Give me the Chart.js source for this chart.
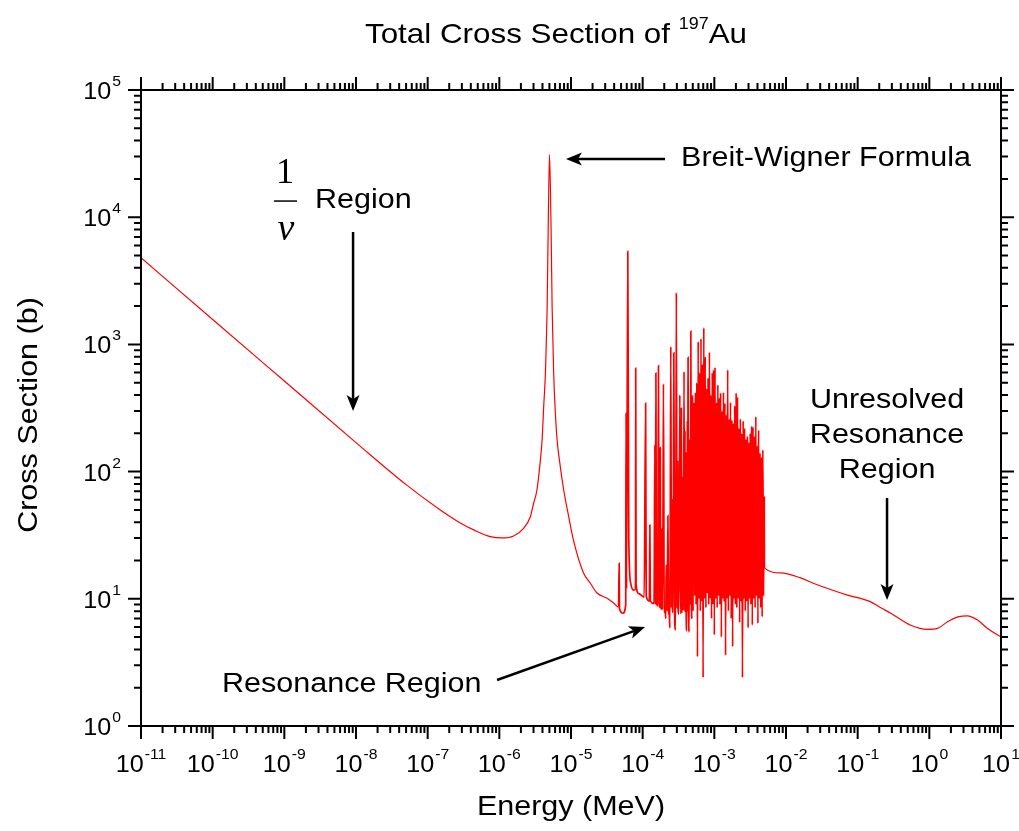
<!DOCTYPE html>
<html>
<head>
<meta charset="utf-8">
<title>Total Cross Section of 197Au</title>
<script src="https://cdn.jsdelivr.net/npm/chart.js@4.4.1/dist/chart.umd.min.js"></script>
<style>
  html, body { margin: 0; padding: 0; background: #fff; }
  #wrap { width: 1019px; height: 831px; position: relative; }
</style>
</head>
<body>
<div id="wrap"><canvas id="xsChart"></canvas></div>
<script>
// axis decades (powers of ten)
const xTickExponents = [-11, -10, -9, -8, -7, -6, -5, -4, -3, -2, -1, 0, 1];
const yTickExponents = [0, 1, 2, 3, 4, 5];

// [energy MeV, cross section b]
// 1/v fall and the 4.9 eV Breit-Wigner resonance
const thermalRegion = [
  [1e-11, 4800], [1e-10, 1570], [1e-9, 515], [1e-8, 169], [5e-8, 79], [1.5e-7, 50],
  [2.85e-7, 39.5], [4.4e-7, 34.8], [7.5e-7, 30.8], [1.09e-6, 30.1], [1.58e-6, 31.2],
  [2.18e-6, 35.8], [2.7e-6, 44], [3.0e-6, 56], [3.35e-6, 72], [3.74e-6, 123],
  [3.95e-6, 177], [4.16e-6, 324], [4.4e-6, 600], [4.53e-6, 1080], [4.65e-6, 2000],
  [4.85e-6, 12000], [5.02e-6, 31000], [5.3e-6, 6600], [5.45e-6, 1990], [5.73e-6, 596],
  [6.05e-6, 290], [6.4e-6, 177], [7.1e-6, 109], [7.9e-6, 72], [9.3e-6, 44],
  [1.08e-5, 29], [1.49e-5, 16], [1.87e-5, 13.2], [2.31e-5, 11.1], [3.19e-5, 10.1],
  [3.91e-5, 9.3], [4.6e-5, 8.6]
];

// isolated resolved resonances
const resolvedRegion = [
  [4.7e-5, 19], [4.75e-5, 8.4], [5.3e-5, 7.7], [5.8e-5, 9], [5.87e-5, 290], [5.95e-5, 12],
  [6.2e-5, 5400], [6.4e-5, 30], [6.8e-5, 13.3], [7.5e-5, 11.7], [7.95e-5, 12], [8.0e-5, 650],
  [8.1e-5, 13], [8.8e-5, 11], [1.05e-4, 10.3], [1.1e-4, 345], [1.12e-4, 10.5], [1.24e-4, 9.6],
  [1.26e-4, 38], [1.28e-4, 9.6], [1.44e-4, 9.2], [1.48e-4, 162], [1.5e-4, 9], [1.53e-4, 595],
  [1.56e-4, 9.2], [1.63e-4, 8.8], [1.66e-4, 680], [1.7e-4, 9], [1.74e-4, 8.6], [1.76e-4, 155],
  [1.79e-4, 8.5], [1.85e-4, 8.3], [1.87e-4, 36], [1.9e-4, 8.2], [1.95e-4, 490], [2.0e-4, 7.8],
  [2.06e-4, 8.4], [2.1e-4, 7], [2.13e-4, 18.5], [2.2e-4, 8], [2.25e-4, 45], [2.3e-4, 8],
  [2.35e-4, 7.5], [2.4e-4, 5.9], [2.47e-4, 960], [2.52e-4, 8.5], [2.58e-4, 60], [2.62e-4, 8],
  [2.66e-4, 7.8], [2.72e-4, 860], [2.8e-4, 6.6], [2.88e-4, 5.7], [2.95e-4, 2550], [3.02e-4, 8.4],
  [3.08e-4, 120], [3.13e-4, 8], [3.2e-4, 7.6], [3.3e-4, 400], [3.37e-4, 7.7], [3.42e-4, 7.7],
  [3.47e-4, 320], [3.52e-4, 7.7], [3.58e-4, 90], [3.63e-4, 8.5], [3.7e-4, 8.2], [3.78e-4, 610],
  [3.84e-4, 8], [3.9e-4, 210], [3.95e-4, 7.8], [3.98e-4, 140], [4.05e-4, 7.5], [4.12e-4, 5.6],
  [4.2e-4, 250], [4.25e-4, 8], [4.3e-4, 790], [4.37e-4, 8.5], [4.45e-4, 5.5], [4.55e-4, 180],
  [4.62e-4, 9], [4.7e-4, 1270], [4.8e-4, 8], [4.9e-4, 7], [4.95e-4, 400], [5.05e-4, 8]
];

// dense forest of resonances up to ~5 keV
const denseRegion = [
  [5.20e-4, 350], [5.32e-4, 10.5], [5.44e-4, 420], [5.56e-4, 9], [5.69e-4, 500], [5.82e-4, 3.5],
  [5.95e-4, 1050], [6.09e-4, 10], [6.23e-4, 600], [6.37e-4, 8], [6.51e-4, 1110], [6.66e-4, 9.5],
  [6.81e-4, 700], [6.97e-4, 2.4], [7.13e-4, 1350], [7.29e-4, 10], [7.46e-4, 800], [7.63e-4, 8.5],
  [7.80e-4, 450], [7.98e-4, 11], [8.16e-4, 545], [8.35e-4, 9], [8.54e-4, 870], [8.73e-4, 10],
  [8.93e-4, 400], [9.14e-4, 7], [9.35e-4, 600], [9.56e-4, 9], [9.78e-4, 630], [1.000e-3, 5.2],
  [1.023e-3, 660], [1.046e-3, 10], [1.070e-3, 350], [1.095e-3, 8.5], [1.120e-3, 480], [1.145e-3, 10.5],
  [1.171e-3, 380], [1.198e-3, 9], [1.225e-3, 415], [1.253e-3, 5], [1.282e-3, 300], [1.311e-3, 10],
  [1.341e-3, 420], [1.372e-3, 9.5], [1.403e-3, 345], [1.435e-3, 3.6], [1.468e-3, 280], [1.501e-3, 10],
  [1.536e-3, 630], [1.571e-3, 8], [1.607e-3, 260], [1.643e-3, 10.5], [1.681e-3, 350], [1.719e-3, 7],
  [1.759e-3, 255], [1.799e-3, 4.2], [1.840e-3, 240], [1.882e-3, 10], [1.925e-3, 330], [1.969e-3, 9],
  [2.014e-3, 415], [2.060e-3, 8.5], [2.107e-3, 385], [2.155e-3, 10], [2.205e-3, 220], [2.255e-3, 6.5],
  [2.306e-3, 260], [2.359e-3, 9.5], [2.413e-3, 200], [2.468e-3, 2.4], [2.525e-3, 250], [2.582e-3, 10],
  [2.641e-3, 220], [2.702e-3, 8], [2.763e-3, 180], [2.827e-3, 9.5], [2.891e-3, 190], [2.957e-3, 5.9],
  [3.025e-3, 170], [3.094e-3, 10], [3.165e-3, 200], [3.237e-3, 9], [3.311e-3, 228], [3.387e-3, 6.2],
  [3.464e-3, 225], [3.543e-3, 10], [3.624e-3, 190], [3.707e-3, 8.5], [3.792e-3, 270], [3.879e-3, 10.5],
  [3.967e-3, 160], [4.058e-3, 6.4], [4.151e-3, 212], [4.246e-3, 10], [4.343e-3, 140], [4.442e-3, 8.5],
  [4.543e-3, 130], [4.647e-3, 7.2], [4.754e-3, 148], [4.862e-3, 10.5], [4.973e-3, 63]
];

// smooth unresolved / fast region
const unresolvedRegion = [
  [5.0e-3, 17.5], [8.4e-3, 16], [1.6e-2, 14.6], [2.45e-2, 13.2], [7.2e-2, 10.7], [0.15, 9.5],
  [0.21, 8.5], [0.29, 7.7], [0.55, 6.2], [0.94, 5.75], [1.3, 5.85], [1.8, 6.6], [2.5, 7.2],
  [3.4, 7.35], [4.7, 6.8], [6.5, 5.85], [10, 5.0]
];

const FONT = '"Liberation Sans", Arial, Helvetica, sans-serif';
const SERIF = '"Liberation Serif", "Times New Roman", serif';

function putText(ctx, str, x, y, size, align, sx, family, style) {
  sx = sx || 1;
  ctx.font = (style ? style + ' ' : '') + size + 'px ' + (family || FONT);
  const w = ctx.measureText(str).width * sx;
  let left = x;
  if (align === 'center') left = x - w / 2;
  else if (align === 'right') left = x - w;
  ctx.save();
  ctx.translate(left, y);
  ctx.scale(sx, 1);
  ctx.textAlign = 'left';
  ctx.textBaseline = 'alphabetic';
  ctx.fillText(str, 0, 0);
  ctx.restore();
  return w;
}

function textWidth(ctx, str, size, sx) {
  ctx.font = size + 'px ' + FONT;
  return ctx.measureText(str).width * (sx || 1);
}

// "10" with a raised exponent
function powLabel(ctx, exp, x, y, align) {
  const b = 24, e = 15, sx = 1.05;
  const wb = textWidth(ctx, '10', b, sx);
  const we = textWidth(ctx, String(exp), e, sx);
  const total = wb + 1 + we;
  let left = x;
  if (align === 'center') left = x - total / 2;
  else if (align === 'right') left = x - total;
  putText(ctx, '10', left, y, b, 'left', sx);
  putText(ctx, String(exp), left + wb + 1, y - 13, e, 'left', sx);
}

function arrow(ctx, x1, y1, x2, y2) {
  const ang = Math.atan2(y2 - y1, x2 - x1);
  const len = 16, half = 6.5, notch = 4;
  ctx.beginPath();
  ctx.moveTo(x1, y1);
  ctx.lineTo(x2 - Math.cos(ang) * (len - notch), y2 - Math.sin(ang) * (len - notch));
  ctx.stroke();
  ctx.save();
  ctx.translate(x2, y2);
  ctx.rotate(ang);
  ctx.beginPath();
  ctx.moveTo(0, 0);
  ctx.lineTo(-len, -half);
  ctx.lineTo(-len + notch, 0);
  ctx.lineTo(-len, half);
  ctx.closePath();
  ctx.fill();
  ctx.restore();
}

// frame, ticks, labels and notes, drawn on top of the curve
const frame = {
  id: 'frame',
  afterDraw(chart) {
    const { ctx, chartArea: a, scales } = chart;
    const xs = scales.x, ys = scales.y;
    const P = (e, s) => [xs.getPixelForValue(e), ys.getPixelForValue(s)];
    const SX = 1.13;
    ctx.save();
    ctx.strokeStyle = '#000';
    ctx.fillStyle = '#000';
    ctx.lineWidth = 2;
    ctx.lineCap = 'butt';
    ctx.strokeRect(a.left, a.top, a.right - a.left, a.bottom - a.top);

    const MAJ = 13, MIN = 7;
    ctx.beginPath();
    xTickExponents.forEach((d, i) => {
      const px = xs.getPixelForValue(Math.pow(10, d));
      ctx.moveTo(px, a.bottom); ctx.lineTo(px, a.bottom + MAJ);
      ctx.moveTo(px, a.top); ctx.lineTo(px, a.top - MAJ);
      if (i < xTickExponents.length - 1) {
        for (let m = 2; m <= 9; m++) {
          const q = xs.getPixelForValue(m * Math.pow(10, d));
          ctx.moveTo(q, a.bottom); ctx.lineTo(q, a.bottom + MIN);
          ctx.moveTo(q, a.top); ctx.lineTo(q, a.top - MIN);
        }
      }
    });
    yTickExponents.forEach((d, i) => {
      const py = ys.getPixelForValue(Math.pow(10, d));
      ctx.moveTo(a.left, py); ctx.lineTo(a.left - MAJ, py);
      ctx.moveTo(a.right, py); ctx.lineTo(a.right + MAJ, py);
      if (i < yTickExponents.length - 1) {
        for (let m = 2; m <= 9; m++) {
          const q = ys.getPixelForValue(m * Math.pow(10, d));
          ctx.moveTo(a.left, q); ctx.lineTo(a.left - MIN, q);
          ctx.moveTo(a.right, q); ctx.lineTo(a.right + MIN, q);
        }
      }
    });
    ctx.stroke();

    // tick labels
    xTickExponents.forEach(d => {
      powLabel(ctx, d, xs.getPixelForValue(Math.pow(10, d)), a.bottom + 46, 'center');
    });
    yTickExponents.forEach(d => {
      powLabel(ctx, d, a.left - 20, ys.getPixelForValue(Math.pow(10, d)) + 9, 'right');
    });

    // title with superscript mass number
    const tSize = 28, tsx = 1.12;
    const w1 = textWidth(ctx, 'Total Cross Section of ', tSize, tsx);
    const w2 = textWidth(ctx, '197', 16, tsx);
    const w3 = textWidth(ctx, 'Au', tSize, tsx);
    let tx = 556 - (w1 + w2 + w3) / 2;
    putText(ctx, 'Total Cross Section of ', tx, 43, tSize, 'left', tsx);
    putText(ctx, '197', tx + w1, 29, 16, 'left', tsx);
    putText(ctx, 'Au', tx + w1 + w2, 43, tSize, 'left', tsx);

    // axis titles
    putText(ctx, 'Energy (MeV)', (a.left + a.right) / 2, 815, 27, 'center', SX);
    ctx.save();
    ctx.translate(37, 415);
    ctx.rotate(-Math.PI / 2);
    putText(ctx, 'Cross Section (b)', 0, 0, 27, 'center', SX);
    ctx.restore();

    // notes
    ctx.lineWidth = 2.5;
    let p, q;
    p = P(3.43e-4, 25300);
    putText(ctx, 'Breit-Wigner Formula', p[0], p[1], 27, 'left', SX);
    p = P(2.05e-4, 28700); q = P(8.5e-6, 28700);
    arrow(ctx, p[0], p[1], q[0], q[1]);

    p = P(2.68e-9, 11800);
    putText(ctx, 'Region', p[0], p[1], 27, 'left', SX);
    putText(ctx, '1', p[0] - 30, p[1] - 25, 36, 'center', 1, SERIF);
    ctx.lineWidth = 1.5;
    ctx.beginPath();
    ctx.moveTo(p[0] - 41, p[1] - 7); ctx.lineTo(p[0] - 18, p[1] - 7);
    ctx.stroke();
    putText(ctx, 'v', p[0] - 29, p[1] + 32, 38, 'center', 1, SERIF, 'italic');
    ctx.lineWidth = 2.5;
    p = P(9.1e-9, 7650); q = P(9.1e-9, 300);
    arrow(ctx, p[0], p[1], q[0], q[1]);

    p = P(1.35e-10, 1.85);
    putText(ctx, 'Resonance Region', p[0], p[1], 27, 'left', SX);
    p = P(9.3e-7, 2.3); q = P(1.08e-4, 6.0);
    arrow(ctx, p[0], p[1], q[0], q[1]);

    p = P(0.257, 316);
    ['Unresolved', 'Resonance', 'Region'].forEach((s, i) => {
      putText(ctx, s, p[0], p[1] + i * 35, 27, 'center', SX);
    });
    p = P(0.257, 62); q = P(0.257, 9.8);
    arrow(ctx, p[0], p[1], q[0], q[1]);
    ctx.restore();
  }
};

const points = thermalRegion
  .concat(resolvedRegion, denseRegion, unresolvedRegion)
  .map(p => ({ x: p[0], y: p[1] }));

// resonance lines look a little heavier than the smooth parts
function segWidth(c) {
  const e0 = c.p0.parsed.x, e1 = c.p1.parsed.x;
  return (e0 >= 4.6e-5 && e1 <= 5.0e-3) ? 1.7 : 1.2;
}

const ctx = document.getElementById('xsChart').getContext('2d');
new Chart(ctx, {
  type: 'line',
  data: {
    datasets: [{
      label: 'Total',
      data: points,
      borderColor: '#ff0000',
      borderWidth: 1.2,
      pointRadius: 0,
      cubicInterpolationMode: 'monotone',
      fill: false,
      segment: { borderWidth: segWidth }
    }]
  },
  options: {
    responsive: true,
    maintainAspectRatio: false,
    animation: false,
    layout: { padding: { left: 141, right: 18, top: 90, bottom: 105 } },
    plugins: { legend: { display: false }, tooltip: { enabled: false } },
    scales: {
      x: { type: 'logarithmic', min: 1e-11, max: 10, display: false },
      y: { type: 'logarithmic', min: 1, max: 1e5, display: false }
    }
  },
  plugins: [frame]
});
</script>
</body>
</html>
